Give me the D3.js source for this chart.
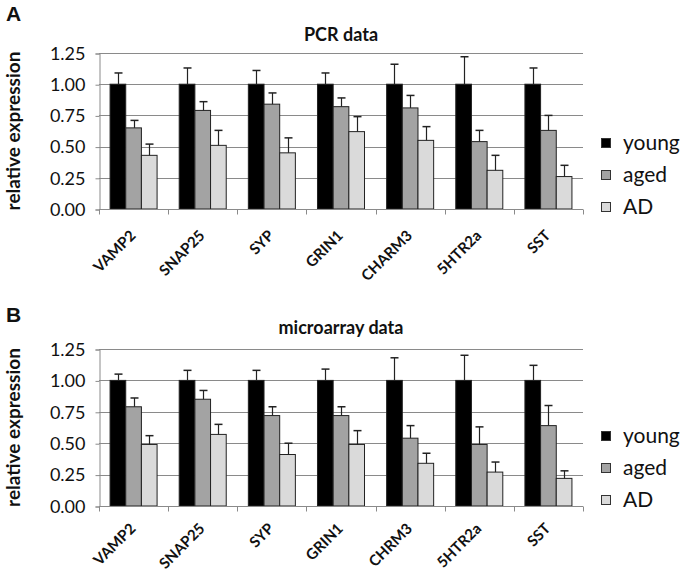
<!DOCTYPE html>
<html>
<head>
<meta charset="utf-8">
<script src="https://cdn.jsdelivr.net/npm/d3@7/dist/d3.min.js"></script>
<style>
  html, body { margin: 0; padding: 0; background: #fff; }
  svg { display: block; }
</style>
</head>
<body>
<svg id="chart" width="689" height="574"></svg>
<script>
// ---- data ----
const seriesNames = ["young", "aged", "AD"];
const yTicks = [0, 0.25, 0.5, 0.75, 1.0, 1.25];

const pcrGenes = ["VAMP2", "SNAP25", "SYP", "GRIN1", "CHARM3", "5HTR2a", "SST"];
const pcrYoung = [1.00, 1.00, 1.00, 1.00, 1.00, 1.00, 1.00];
const pcrYoungErr = [0.09, 0.13, 0.11, 0.09, 0.16, 0.22, 0.13];
const pcrAged = [0.65, 0.79, 0.84, 0.82, 0.81, 0.54, 0.63];
const pcrAgedErr = [0.06, 0.07, 0.09, 0.07, 0.10, 0.09, 0.12];
const pcrAD = [0.43, 0.51, 0.45, 0.62, 0.55, 0.31, 0.26];
const pcrADErr = [0.09, 0.12, 0.12, 0.12, 0.11, 0.12, 0.09];

const maGenes = ["VAMP2", "SNAP25", "SYP", "GRIN1", "CHRM3", "5HTR2a", "SST"];
const maYoung = [1.00, 1.00, 1.00, 1.00, 1.00, 1.00, 1.00];
const maYoungErr = [0.05, 0.08, 0.08, 0.09, 0.18, 0.20, 0.12];
const maAged = [0.79, 0.85, 0.72, 0.72, 0.54, 0.49, 0.64];
const maAgedErr = [0.07, 0.07, 0.07, 0.07, 0.10, 0.14, 0.16];
const maAD = [0.49, 0.57, 0.41, 0.49, 0.34, 0.27, 0.22];
const maADErr = [0.07, 0.08, 0.09, 0.11, 0.08, 0.08, 0.06];

// ---- style ----
const colors = { young: "#000000", aged: "#a3a3a3", AD: "#dadada" };
const gridColor = "#8a8a8a";
const FONT = "Lato, 'Open Sans', sans-serif";

const svg = d3.select("#chart");

function drawPanel(opt) {
  const { letter, title, genes, vals, errs, top, bottom, letterY, titleY, legendY, labelDy } = opt;
  const left = 99, right = 583;
  const g = svg.append("g");

  const x0 = d3.scaleBand().domain(genes).range([left, right]).paddingInner(0.32).paddingOuter(0.16);
  const x1 = d3.scaleBand().domain(seriesNames).range([0, x0.bandwidth()]);
  const y = d3.scaleLinear().domain([0, 1.25]).range([bottom, top]);

  // gridlines
  g.append("g").selectAll("line").data(yTicks.filter(t => t > 0)).join("line")
    .attr("x1", left).attr("x2", right)
    .attr("y1", d => Math.round(y(d)) + 0.5).attr("y2", d => Math.round(y(d)) + 0.5)
    .attr("stroke", gridColor).attr("stroke-width", 1);

  // y axis
  const yAxis = d3.axisLeft(y).tickValues(yTicks).tickFormat(d3.format(".2f")).tickSize(4).tickPadding(10);
  const ya = g.append("g").attr("transform", `translate(${left + 0.5},0.5)`).call(yAxis);
  ya.select(".domain").attr("stroke", gridColor);
  ya.selectAll(".tick line").attr("stroke", gridColor);
  ya.selectAll(".tick text").attr("font-family", FONT).attr("font-size", 18).attr("fill", "#111");

  // bars
  seriesNames.forEach((s, si) => {
    const grp = g.append("g");
    genes.forEach((gene, i) => {
      const bx = x0(gene) + x1(s);
      const v = vals[si][i];
      grp.append("rect")
        .attr("x", bx).attr("y", y(v))
        .attr("width", x1.bandwidth()).attr("height", y(0) - y(v))
        .attr("fill", colors[s]).attr("stroke", "#222").attr("stroke-width", 1);
      const cx = Math.round(bx + x1.bandwidth() / 2) + 0.5;
      const et = y(v + errs[si][i]);
      grp.append("line").attr("x1", cx).attr("x2", cx).attr("y1", y(v)).attr("y2", et)
        .attr("stroke", "#222").attr("stroke-width", 1.2);
      grp.append("line").attr("x1", cx - 4).attr("x2", cx + 4).attr("y1", et).attr("y2", et)
        .attr("stroke", "#222").attr("stroke-width", 1.5);
    });
  });

  // x axis
  const xa = g.append("g").attr("transform", `translate(0,${Math.round(y(0)) + 0.5})`);
  xa.append("line").attr("x1", left).attr("x2", right).attr("stroke", gridColor);
  const bounds = genes.map(gname => x0(gname) - x0.step() * 0.16).concat([right]);
  xa.selectAll("line.tk").data(bounds).join("line").attr("class", "tk")
    .attr("x1", d => Math.round(d) + 0.5).attr("x2", d => Math.round(d) + 0.5)
    .attr("y1", 0).attr("y2", 5).attr("stroke", gridColor);
  xa.selectAll("text").data(genes).join("text")
    .attr("transform", d => `translate(${x0(d) + x0.bandwidth() / 2 + 3},${labelDy}) rotate(-45)`)
    .attr("text-anchor", "end")
    .attr("font-family", FONT).attr("font-weight", 700).attr("font-size", 15).attr("fill", "#111")
    .text(d => d);

  // title
  g.append("text").attr("x", (left + right) / 2).attr("y", titleY)
    .attr("text-anchor", "middle").attr("font-family", FONT).attr("font-weight", 700)
    .attr("font-size", 18).attr("fill", "#111").text(title);

  // y label
  g.append("text").attr("transform", `translate(20,${(top + bottom) / 2}) rotate(-90)`)
    .attr("text-anchor", "middle").attr("font-family", FONT).attr("font-weight", 700)
    .attr("font-size", 19).attr("fill", "#111").text("relative expression");

  // panel letter
  g.append("text").attr("x", 6).attr("y", letterY)
    .attr("font-family", "'Liberation Sans', Arial, sans-serif").attr("font-weight", 700)
    .attr("font-size", 21).attr("fill", "#111").text(letter);

  // legend
  const lg = g.append("g");
  seriesNames.forEach((s, i) => {
    const cy = legendY + i * 32;
    lg.append("rect").attr("x", 601.5).attr("y", cy - 4.5).attr("width", 9).attr("height", 9)
      .attr("fill", colors[s]).attr("stroke", "#333").attr("stroke-width", 1);
    lg.append("text").attr("x", 623).attr("y", cy + 7)
      .attr("font-family", FONT).attr("font-size", 21).attr("fill", "#111").text(s);
  });
}

drawPanel({
  letter: "A", title: "PCR data", genes: pcrGenes,
  vals: [pcrYoung, pcrAged, pcrAD], errs: [pcrYoungErr, pcrAgedErr, pcrADErr],
  top: 53, bottom: 209, letterY: 21, titleY: 41, legendY: 143, labelDy: 27
});
drawPanel({
  letter: "B", title: "microarray data", genes: maGenes,
  vals: [maYoung, maAged, maAD], errs: [maYoungErr, maAgedErr, maADErr],
  top: 349, bottom: 506, letterY: 322, titleY: 334, legendY: 436, labelDy: 23
});
</script>
</body>
</html>
